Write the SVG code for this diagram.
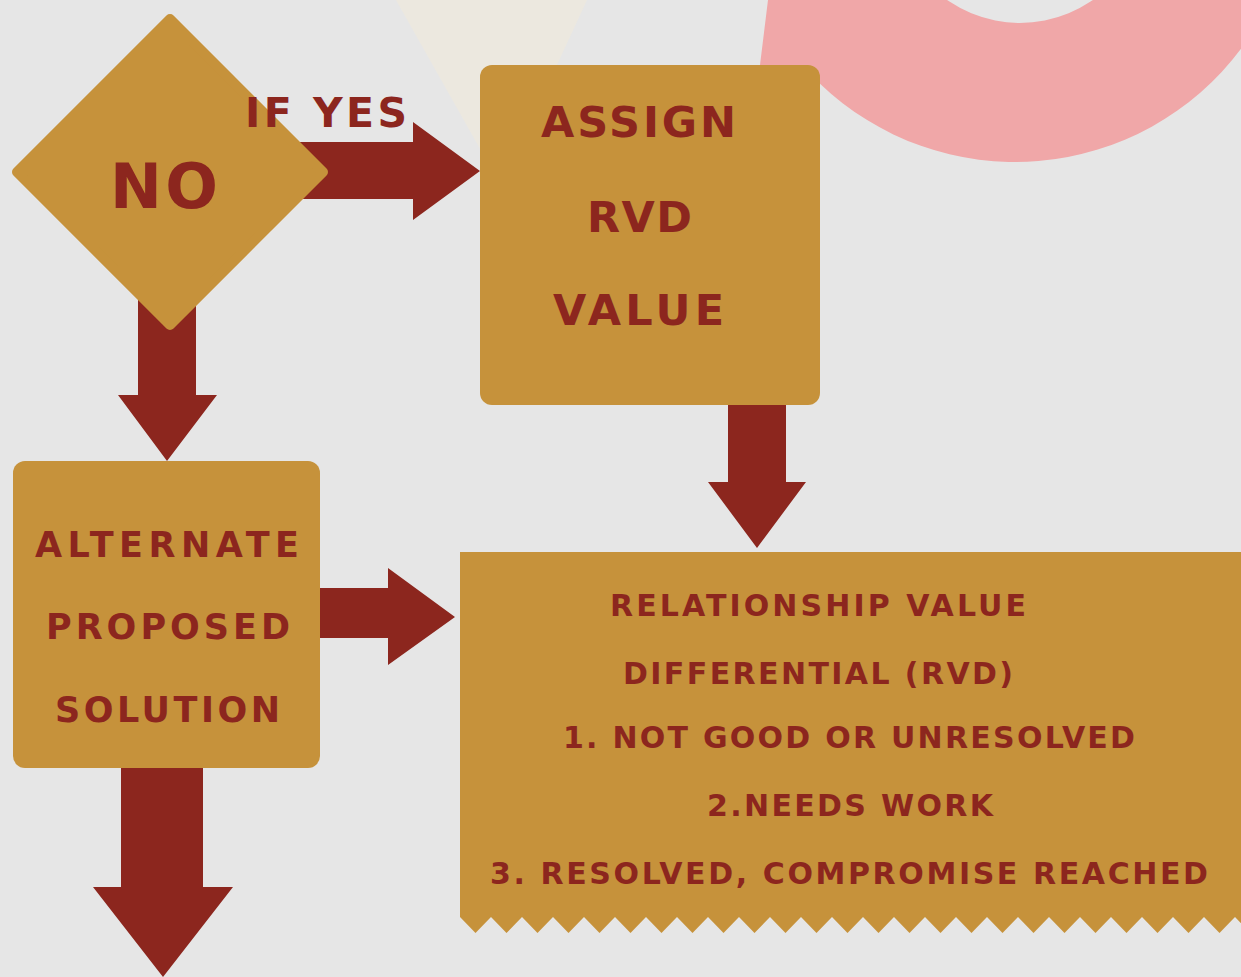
<svg xmlns="http://www.w3.org/2000/svg" width="1241" height="977" viewBox="0 0 1241 977">
  <style>
    .node { fill: #c6923b; }
    .arrow { fill: #8c261e; }
    .t { font-family: "DejaVu Sans", "Liberation Sans", sans-serif; font-weight: bold; fill: #8c261e; }
  </style>
  <rect x="0" y="0" width="1241" height="977" fill="#e6e6e6"/>
  <g id="decor">
    <polygon points="396,0 587,0 501,186" fill="#ece8df"/>
    <path fill="#f0a7a8" fill-rule="evenodd" d="M768,0 L760,65 L812,84 L820,83.7 A282,282 0 0,0 1241,48.7 L1241,0 Z M1147,-104 A127,127 0 1,0 893,-104 A127,127 0 1,0 1147,-104 Z"/>
  </g>
  <g id="connectors">
    <polygon class="arrow" points="290,142 413,142 413,122 480,171 413,220 413,199 290,199"/>
    <polygon class="arrow" points="138,300 196,300 196,395 217,395 167,461 118,395 138,395"/>
    <polygon class="arrow" points="728,400 786,400 786,482 806,482 757,548 708,482 728,482"/>
    <polygon class="arrow" points="315,588 388,588 388,568 455,617 388,665 388,638 315,638"/>
    <polygon class="arrow" points="121,760 203,760 203,887 233,887 163,977 93,887 121,887"/>
  </g>
  <g id="node-decision">
    <polygon class="node" points="170,19 323,172 170,325 17,172" stroke="#c6923b" stroke-width="10" stroke-linejoin="round"/>
    <text class="t" x="110" y="208" font-size="62" textLength="108" lengthAdjust="spacing">NO</text>
    <text class="t" x="245" y="127" font-size="41" textLength="162" lengthAdjust="spacing">IF YES</text>
  </g>
  <g id="node-assign">
    <rect class="node" x="480" y="65" width="340" height="340" rx="12"/>
    <text class="t" x="541" y="137" font-size="43" textLength="195" lengthAdjust="spacing">ASSIGN</text>
    <text class="t" x="587" y="232" font-size="43" textLength="105" lengthAdjust="spacing">RVD</text>
    <text class="t" x="553" y="325" font-size="43" textLength="171" lengthAdjust="spacing">VALUE</text>
  </g>
  <g id="node-alternate">
    <rect class="node" x="13" y="461" width="307" height="307" rx="12"/>
    <text class="t" x="35" y="557" font-size="35" textLength="264" lengthAdjust="spacing">ALTERNATE</text>
    <text class="t" x="46" y="639" font-size="35" textLength="244" lengthAdjust="spacing">PROPOSED</text>
    <text class="t" x="55" y="722" font-size="35" textLength="225" lengthAdjust="spacing">SOLUTION</text>
  </g>
  <g id="node-rvd">
    <path class="node" d="M460,552 V917 l15.5,16 l15.5,-16 l15.5,16 l15.5,-16 l15.5,16 l15.5,-16 l15.5,16 l15.5,-16 l15.5,16 l15.5,-16 l15.5,16 l15.5,-16 l15.5,16 l15.5,-16 l15.5,16 l15.5,-16 l15.5,16 l15.5,-16 l15.5,16 l15.5,-16 l15.5,16 l15.5,-16 l15.5,16 l15.5,-16 l15.5,16 l15.5,-16 l15.5,16 l15.5,-16 l15.5,16 l15.5,-16 l15.5,16 l15.5,-16 l15.5,16 l15.5,-16 l15.5,16 l15.5,-16 l15.5,16 l15.5,-16 l15.5,16 l15.5,-16 l15.5,16 l15.5,-16 l15.5,16 l15.5,-16 l15.5,16 l15.5,-16 l15.5,16 l15.5,-16 l15.5,16 l15.5,-16 l15.5,16 V552 Z"/>
    <text class="t" x="610" y="616" font-size="30" textLength="416" lengthAdjust="spacing">RELATIONSHIP VALUE</text>
    <text class="t" x="623" y="684" font-size="30" textLength="390" lengthAdjust="spacing">DIFFERENTIAL (RVD)</text>
    <text class="t" x="563" y="748" font-size="30" textLength="572" lengthAdjust="spacing">1. NOT GOOD OR UNRESOLVED</text>
    <text class="t" x="707" y="816" font-size="30" textLength="286" lengthAdjust="spacing">2.NEEDS WORK</text>
    <text class="t" x="490" y="884" font-size="30" textLength="718" lengthAdjust="spacing">3. RESOLVED, COMPROMISE REACHED</text>
  </g>
</svg>
